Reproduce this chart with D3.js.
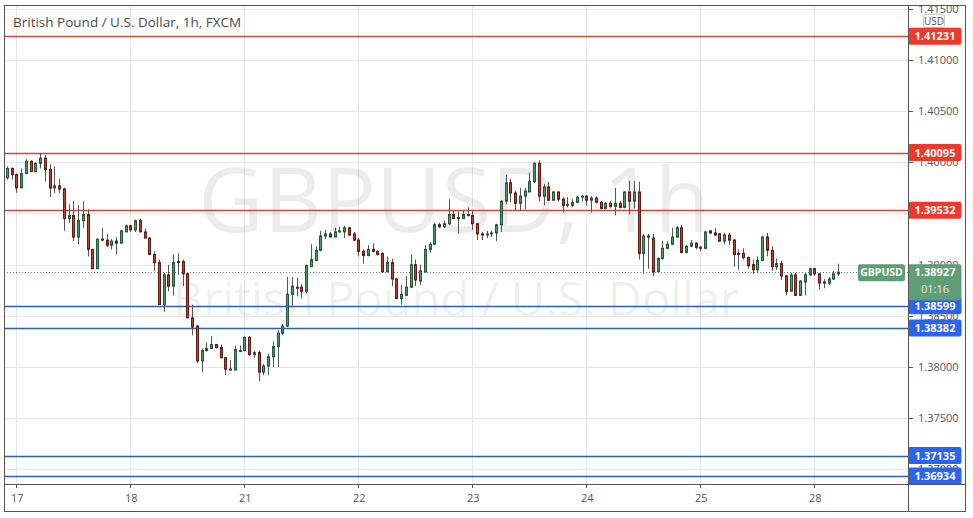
<!DOCTYPE html>
<html><head><meta charset="utf-8">
<script src="https://cdn.jsdelivr.net/npm/d3@7"></script>
<style>body{margin:0;background:#fff;}svg{display:block;font-family:"Open Sans","Noto Sans",sans-serif;}</style>
</head><body>
<svg id="c" width="973" height="518"></svg>
<script>
const openP=[1.3985,1.3994,1.3988,1.3975,1.3989,1.4001,1.3991,1.3999,1.4004,1.3993,
1.3975,1.3977,1.3974,1.3945,1.3948,1.3927,1.3943,1.3949,1.3915,1.3896,
1.3925,1.3924,1.3919,1.3923,1.3921,1.3932,1.3938,1.3934,1.3943,1.3932,
1.3926,1.3910,1.3902,1.3861,1.3890,1.3879,1.3903,1.3903,1.3891,1.3848,
1.3840,1.3806,1.3816,1.3818,1.3822,1.3819,1.3809,1.3797,1.3797,1.3815,
1.3816,1.3829,1.3812,1.3814,1.3795,1.3801,1.3810,1.3820,1.3833,1.3840,
1.3871,1.3878,1.3878,1.3874,1.3898,1.3904,1.3914,1.3928,1.3930,1.3927,
1.3932,1.3932,1.3936,1.3930,1.3924,1.3913,1.3909,1.3915,1.3913,1.3911,
1.3893,1.3902,1.3886,1.3867,1.3870,1.3878,1.3900,1.3884,1.3893,1.3915,
1.3920,1.3939,1.3937,1.3940,1.3949,1.3946,1.3945,1.3949,1.3948,1.3940,
1.3930,1.3929,1.3930,1.3931,1.3939,1.3962,1.3980,1.3970,1.3960,1.3967,
1.3971,1.3981,1.3999,1.3967,1.3976,1.3963,1.3971,1.3964,1.3958,1.3958,
1.3961,1.3966,1.3967,1.3963,1.3965,1.3961,1.3955,1.3960,1.3957,1.3960,
1.3956,1.3971,1.3962,1.3971,1.3911,1.3928,1.3926,1.3893,1.3906,1.3916,
1.3920,1.3927,1.3936,1.3912,1.3918,1.3921,1.3917,1.3916,1.3933,1.3931,
1.3930,1.3923,1.3929,1.3924,1.3911,1.3911,1.3907,1.3900,1.3895,1.3904,
1.3927,1.3914,1.3898,1.3901,1.3889,1.3874,1.3890,1.3870,1.3883,1.3890,
1.3896,1.3891,1.3883,1.3882,1.3886,1.3891];
const highP=[1.3996,1.3995,1.3989,1.3994,1.4003,1.4002,1.4000,1.4009,1.4007,1.3998,
1.3996,1.3984,1.3975,1.3959,1.3962,1.3958,1.3962,1.3954,1.3915,1.3925,
1.3936,1.3930,1.3925,1.3927,1.3934,1.3939,1.3939,1.3944,1.3945,1.3935,
1.3927,1.3913,1.3905,1.3892,1.3900,1.3910,1.3911,1.3905,1.3892,1.3861,
1.3841,1.3818,1.3824,1.3830,1.3822,1.3822,1.3810,1.3807,1.3821,1.3821,
1.3830,1.3830,1.3816,1.3816,1.3803,1.3813,1.3825,1.3836,1.3842,1.3888,
1.3888,1.3887,1.3881,1.3900,1.3920,1.3918,1.3933,1.3934,1.3932,1.3936,
1.3937,1.3938,1.3937,1.3932,1.3926,1.3915,1.3919,1.3921,1.3914,1.3912,
1.3908,1.3906,1.3887,1.3880,1.3889,1.3910,1.3905,1.3900,1.3919,1.3922,
1.3941,1.3941,1.3943,1.3964,1.3953,1.3952,1.3953,1.3956,1.3953,1.3941,
1.3932,1.3933,1.3933,1.3940,1.3963,1.3988,1.3984,1.3972,1.3975,1.3975,
1.3990,1.4000,1.4002,1.3979,1.3981,1.3972,1.3972,1.3966,1.3966,1.3964,
1.3967,1.3968,1.3968,1.3967,1.3967,1.3962,1.3961,1.3962,1.3975,1.3962,
1.3972,1.3982,1.3982,1.3981,1.3930,1.3930,1.3930,1.3907,1.3923,1.3923,
1.3936,1.3938,1.3939,1.3919,1.3924,1.3922,1.3918,1.3933,1.3934,1.3936,
1.3931,1.3931,1.3931,1.3925,1.3915,1.3916,1.3908,1.3905,1.3908,1.3928,
1.3931,1.3918,1.3906,1.3904,1.3890,1.3892,1.3892,1.3885,1.3892,1.3897,
1.3897,1.3892,1.3886,1.3888,1.3894,1.3901];
const lowP=[1.3983,1.3983,1.3970,1.3975,1.3989,1.3991,1.3991,1.3994,1.3981,1.3966,
1.3970,1.3970,1.3933,1.3941,1.3923,1.3920,1.3936,1.3908,1.3896,1.3896,
1.3923,1.3917,1.3915,1.3910,1.3921,1.3932,1.3932,1.3932,1.3932,1.3926,
1.3910,1.3894,1.3861,1.3854,1.3874,1.3870,1.3890,1.3879,1.3848,1.3831,
1.3804,1.3795,1.3815,1.3818,1.3818,1.3809,1.3792,1.3796,1.3797,1.3815,
1.3816,1.3811,1.3809,1.3786,1.3792,1.3792,1.3800,1.3800,1.3831,1.3839,
1.3860,1.3869,1.3867,1.3872,1.3898,1.3904,1.3913,1.3925,1.3927,1.3927,
1.3931,1.3926,1.3928,1.3923,1.3908,1.3901,1.3908,1.3912,1.3909,1.3892,
1.3893,1.3879,1.3866,1.3861,1.3870,1.3877,1.3879,1.3880,1.3892,1.3912,
1.3919,1.3936,1.3936,1.3939,1.3945,1.3930,1.3945,1.3947,1.3934,1.3924,
1.3924,1.3926,1.3927,1.3923,1.3932,1.3959,1.3961,1.3953,1.3953,1.3954,
1.3971,1.3980,1.3962,1.3958,1.3962,1.3962,1.3962,1.3951,1.3956,1.3956,
1.3960,1.3962,1.3958,1.3951,1.3960,1.3954,1.3954,1.3955,1.3948,1.3955,
1.3955,1.3949,1.3955,1.3905,1.3891,1.3896,1.3889,1.3893,1.3905,1.3915,
1.3919,1.3926,1.3911,1.3911,1.3917,1.3915,1.3913,1.3915,1.3930,1.3928,
1.3922,1.3920,1.3919,1.3898,1.3895,1.3905,1.3896,1.3891,1.3892,1.3904,
1.3908,1.3894,1.3895,1.3885,1.3870,1.3874,1.3870,1.3870,1.3870,1.3889,
1.3889,1.3876,1.3877,1.3880,1.3885,1.3889];
const closeP=[1.3994,1.3988,1.3975,1.3989,1.4001,1.3991,1.3999,1.4004,1.3993,1.3975,
1.3977,1.3974,1.3945,1.3948,1.3927,1.3943,1.3949,1.3915,1.3896,1.3925,
1.3924,1.3919,1.3923,1.3921,1.3933,1.3938,1.3934,1.3943,1.3932,1.3926,
1.3910,1.3902,1.3861,1.3890,1.3879,1.3902,1.3902,1.3891,1.3848,1.3839,
1.3806,1.3816,1.3818,1.3822,1.3819,1.3809,1.3798,1.3798,1.3817,1.3816,
1.3829,1.3812,1.3814,1.3795,1.3801,1.3810,1.3820,1.3833,1.3840,1.3871,
1.3879,1.3877,1.3874,1.3899,1.3905,1.3914,1.3928,1.3930,1.3927,1.3932,
1.3933,1.3936,1.3929,1.3924,1.3913,1.3909,1.3915,1.3913,1.3910,1.3893,
1.3902,1.3886,1.3867,1.3871,1.3878,1.3900,1.3885,1.3894,1.3915,1.3920,
1.3939,1.3937,1.3940,1.3949,1.3945,1.3945,1.3949,1.3948,1.3940,1.3930,
1.3929,1.3930,1.3931,1.3939,1.3962,1.3980,1.3970,1.3960,1.3967,1.3972,
1.3981,1.3999,1.3967,1.3976,1.3963,1.3971,1.3964,1.3958,1.3959,1.3961,
1.3966,1.3967,1.3963,1.3965,1.3961,1.3955,1.3960,1.3957,1.3960,1.3956,
1.3971,1.3962,1.3971,1.3911,1.3928,1.3927,1.3893,1.3906,1.3916,1.3920,
1.3927,1.3936,1.3912,1.3918,1.3921,1.3917,1.3916,1.3932,1.3931,1.3929,
1.3923,1.3929,1.3924,1.3910,1.3910,1.3907,1.3899,1.3895,1.3904,1.3927,
1.3914,1.3898,1.3901,1.3889,1.3874,1.3890,1.3870,1.3884,1.3890,1.3896,
1.3891,1.3882,1.3882,1.3886,1.3891,1.38927];
const dayTickIndex=[2,26,50,74,98,122,146,170];
const dayTickLabels=["17","18","21","22","23","24","25","28"];
const priceTicks=[1.370,1.375,1.380,1.385,1.390,1.395,1.400,1.405,1.410,1.415];
const resistanceLevels=[1.41231,1.40095,1.39532];
const supportLevels=[1.38599,1.38382,1.37135,1.36934];
const lastPrice=1.38927;
const countdown="01:16";
const symbol="GBPUSD";
const titleText="British Pound / U.S. Dollar, 1h, FXCM";

const L=4,R=908,T=5,B=484,OR=966,OB=512;
const svg=d3.select("#c");
const x=d3.scaleLinear().domain([0,175]).range([6.8,838.05]);
const y=d3.scaleLinear().domain([1.368566,1.415375]).range([B,T]);
const px=v=>Math.round(v)+0.5;

svg.append("defs").append("clipPath").attr("id","plot").append("rect").attr("x",L).attr("y",T).attr("width",R-L).attr("height",B-T);
svg.select("defs").append("clipPath").attr("id","axisclip").append("rect").attr("x",R).attr("y",T).attr("width",OR-R).attr("height",B-T);

const plot=svg.append("g").attr("clip-path","url(#plot)");
// grid
plot.selectAll(".hg").data(priceTicks).join("line").attr("x1",L).attr("x2",R)
 .attr("y1",d=>px(y(d))).attr("y2",d=>px(y(d))).attr("stroke","#e6e6e7").attr("stroke-width",1);
plot.selectAll(".vg").data(dayTickIndex).join("line").attr("y1",T).attr("y2",B)
 .attr("x1",d=>px(x(d))).attr("x2",d=>px(x(d))).attr("stroke","#e6e6e7").attr("stroke-width",1);
// watermark
plot.append("text").attr("x",454).attr("y",232).attr("text-anchor","middle")
 .attr("font-size",90).attr("fill","#000").attr("fill-opacity",0.075).text("GBPUSD, 1h");
plot.append("text").attr("x",456).attr("y",316).attr("text-anchor","middle")
 .attr("font-size",47).attr("fill","#000").attr("fill-opacity",0.075).text("British Pound / U.S. Dollar");
// level lines
plot.selectAll(".rl").data(resistanceLevels).join("line").attr("x1",L).attr("x2",R)
 .attr("y1",d=>px(y(d))).attr("y2",d=>px(y(d))).attr("stroke","#d2453a").attr("stroke-width",1.3);
plot.selectAll(".sl").data(supportLevels).join("line").attr("x1",L).attr("x2",R)
 .attr("y1",d=>px(y(d))).attr("y2",d=>px(y(d))).attr("stroke","#2f5dbf").attr("stroke-width",1.3);
// last price dotted
plot.append("line").attr("x1",L).attr("x2",R).attr("y1",px(y(lastPrice))).attr("y2",px(y(lastPrice)))
 .attr("stroke","#5f8f70").attr("stroke-dasharray","1,2").attr("stroke-width",1);
// candles
const idx=d3.range(openP.length);
const cg=plot.append("g");
cg.selectAll(".w").data(idx).join("line")
 .attr("x1",i=>px(x(i))).attr("x2",i=>px(x(i)))
 .attr("y1",i=>y(highP[i])).attr("y2",i=>y(lowP[i]))
 .attr("stroke","#555").attr("stroke-width",1);
cg.selectAll(".b").data(idx).join("rect")
 .attr("x",i=>px(x(i))-1).attr("width",2)
 .attr("y",i=>y(Math.max(openP[i],closeP[i])))
 .attr("height",i=>Math.max(1,Math.abs(y(openP[i])-y(closeP[i]))))
 .attr("fill",i=>closeP[i]>=openP[i]?"#4f9d6c":"#c5412f")
 .attr("stroke",i=>closeP[i]>=openP[i]?"#24573a":"#5e1c14")
 .attr("stroke-width",1);

// title
svg.append("text").attr("x",13).attr("y",27).attr("font-size",13.5).attr("fill","#4a4a4a").text(titleText);

// right axis
const ax=svg.append("g");
const tg=ax.append("g").attr("clip-path","url(#axisclip)");
tg.selectAll("line").data(priceTicks).join("line").attr("x1",R).attr("x2",R+5)
 .attr("y1",d=>px(y(d))).attr("y2",d=>px(y(d))).attr("stroke","#555");
tg.selectAll("text").data(priceTicks).join("text").attr("x",918).attr("y",d=>y(d)+4)
 .attr("font-size",11).attr("fill","#555").text(d=>d3.format(".5f")(d));
// USD box
ax.append("rect").attr("x",923.5).attr("y",14.5).attr("width",21).attr("height",13).attr("rx",2)
 .attr("fill","#fff").attr("stroke","#c9c9c9");
ax.append("text").attr("x",934).attr("y",24.5).attr("text-anchor","middle").attr("font-size",10).attr("fill","#555").text("USD");

function levelLabel(v,color){
  const g=ax.append("g");
  g.append("rect").attr("x",R).attr("y",y(v)-8.5).attr("width",53.5).attr("height",17).attr("rx",2).attr("fill",color);
  g.append("text").attr("x",R+27).attr("y",y(v)+4).attr("text-anchor","middle").attr("font-size",11)
   .attr("font-weight","bold").attr("fill","#fff").text(d3.format(".5f")(v));
}
resistanceLevels.forEach(v=>levelLabel(v,"#f0392d"));
supportLevels.forEach(v=>levelLabel(v,"#2c64f2"));
// last price labels
const ly=y(lastPrice);
ax.append("rect").attr("x",858).attr("y",ly-8).attr("width",47).attr("height",17).attr("rx",2).attr("fill","#5f9e76");
ax.append("text").attr("x",881.5).attr("y",ly+4).attr("text-anchor","middle").attr("font-size",10.5).attr("font-weight","bold").attr("fill","#fff").text(symbol);
ax.append("rect").attr("x",R).attr("y",ly-8).attr("width",53.5).attr("height",36).attr("rx",2).attr("fill","#5f9e76");
ax.append("text").attr("x",R+27).attr("y",ly+4).attr("text-anchor","middle").attr("font-size",11).attr("font-weight","bold").attr("fill","#fff").text(d3.format(".5f")(lastPrice));
ax.append("text").attr("x",R+27).attr("y",ly+21).attr("text-anchor","middle").attr("font-size",11).attr("fill","#fff").attr("fill-opacity",0.85).text(countdown);

// bottom axis
const bx=svg.append("g");
bx.selectAll("line").data(dayTickIndex).join("line").attr("x1",i=>px(x(i))).attr("x2",i=>px(x(i)))
 .attr("y1",B).attr("y2",B+4).attr("stroke","#555");
bx.selectAll("text").data(dayTickIndex).join("text").attr("x",i=>x(i)+1).attr("y",502).attr("text-anchor","middle")
 .attr("font-size",11).attr("fill","#555").text((d,k)=>dayTickLabels[k]);

// frame
const fr=svg.append("g").attr("stroke","#555").attr("fill","none");
fr.append("rect").attr("x",L+0.5).attr("y",T+0.5).attr("width",OR-L-1).attr("height",OB-T-1);
fr.append("line").attr("x1",R+0.5).attr("x2",R+0.5).attr("y1",T).attr("y2",OB);
fr.append("line").attr("x1",L).attr("x2",OR).attr("y1",B+0.5).attr("y2",B+0.5);
</script>
</body></html>
